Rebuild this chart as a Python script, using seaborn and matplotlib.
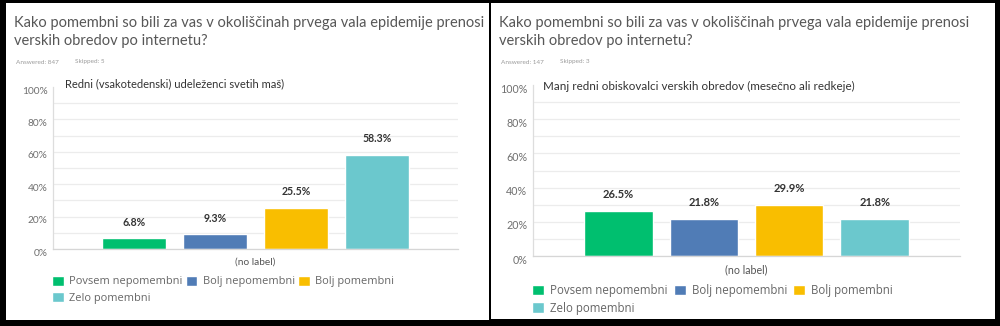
import matplotlib
matplotlib.use("Agg")
import matplotlib.pyplot as plt
import matplotlib.transforms as mtransforms
from matplotlib.patches import Rectangle
import pandas as pd
import seaborn as sns

# Survey data
question = ("Kako pomembni so bili za vas v okoliščinah prvega vala epidemije prenosi\n"
            "verskih obredov po internetu?")
categories = ["Povsem nepomembni", "Bolj nepomembni", "Bolj pomembni", "Zelo pomembni"]
colors = ["#00BF6F", "#507CB6", "#F9BE00", "#6BC8CD"]
group_label = "(no label)"

redni_title = "Redni (vsakotedenski) udeleženci svetih maš)"
redni_values = [6.8, 9.3, 25.5, 58.3]
redni_answered = 847
redni_skipped = 5

manj_title = "Manj redni obiskovalci verskih obredov (mesečno ali redkeje)"
manj_values = [26.5, 21.8, 29.9, 21.8]
manj_answered = 147
manj_skipped = 3

y_ticks = [0, 20, 40, 60, 80, 100]
y_ticklabels = ["0%", "20%", "40%", "60%", "80%", "100%"]

W, H = 1000, 326
FONT = "Lato"
LEGEND_FONT = "Open Sans"

sns.set_theme(style="white")
plt.rcParams["font.family"] = [FONT, "DejaVu Sans"]

fig = plt.figure(figsize=(W / 100, H / 100), dpi=100, facecolor="black")


def fx(x):
    return x / W


def fy(y):
    return 1 - y / H


def panel(box, ax_box, title, values, answered, skipped, s, title_x, title_y, colspace):
    x0, y0, x1, y1 = box
    fig.patches.append(Rectangle((fx(x0), fy(y1)), fx(x1 - x0), (y1 - y0) / H,
                                 transform=fig.transFigure, facecolor="white",
                                 edgecolor="none", zorder=-10))
    tx = x0 + 8
    fig.text(fx(tx), fy(32), question, fontsize=10.5, color="#575757",
             va="center", ha="left", linespacing=1.44)
    fig.text(fx(tx + 2), fy(62), f"Answered: {answered}", fontsize=4.6,
             color="#9a9a9a", va="center")
    fig.text(fx(tx + 61), fy(62), f"Skipped: {skipped}", fontsize=4.6,
             color="#9a9a9a", va="center")

    ax_l, ax_t, ax_r, ax_b = ax_box
    ax = fig.add_axes([fx(ax_l), fy(ax_b), fx(ax_r - ax_l), (ax_b - ax_t) / H])
    ax.set_facecolor("none")

    df = pd.DataFrame({"skupina": group_label, "odgovor": categories, "delez": values})
    sns.barplot(data=df, x="skupina", y="delez", hue="odgovor", hue_order=categories,
                palette=colors, saturation=1, gap=0.2, width=0.8, ax=ax, legend=True)

    for cont in ax.containers:
        ax.bar_label(cont, fmt="%.1f%%", padding=7.5 * s, fontsize=7.6 * s,
                     fontweight="bold", color="#333333")

    ax.set_ylim(0, 100)
    ax.set_xlim(-0.5, 0.5)
    ax.set_yticks(y_ticks)
    ax.set_yticklabels(y_ticklabels)
    ax.set_yticks([10, 30, 50, 70, 90], minor=True)
    ax.grid(axis="y", which="both", color="#ececec", linewidth=0.9)
    ax.yaxis.get_gridlines()[-1].set_visible(False)
    ax.set_axisbelow(True)
    ax.set_xlabel("")
    ax.set_ylabel("")
    for side in ("top", "right"):
        ax.spines[side].set_visible(False)
    ax.spines["left"].set_color("#dddddd")
    ax.spines["bottom"].set_color("#d6d6d6")
    ax.spines["left"].set_linewidth(0.9)
    ax.spines["bottom"].set_linewidth(0.9)
    ax.tick_params(axis="y", which="both", length=0, pad=4 * s, labelsize=7.3 * s,
                   labelcolor="#6f6f6f")
    ax.tick_params(axis="x", length=0, pad=6 * s, labelsize=7.3 * s, labelcolor="#555555")
    shift = mtransforms.ScaledTranslation(0, -3 / 100, fig.dpi_scale_trans)
    for lab in ax.get_yticklabels():
        lab.set_transform(lab.get_transform() + shift)

    fig.text(fx(title_x), fy(title_y), title,
             fontsize=8.0 * s, color="#333333", va="center", ha="left")

    # legend laid out row by row: three entries on the first row, one below
    handles, labels = ax.get_legend_handles_labels()
    order = [0, 3, 1, 2]
    ax.get_legend().remove()
    ax.legend([handles[i] for i in order], [labels[i] for i in order],
              loc="upper left", bbox_to_anchor=(fx(ax_l - 1), fy(ax_b + 26.5 * s)),
              bbox_transform=fig.transFigure, ncol=3, frameon=False,
              prop={"family": LEGEND_FONT, "size": 7.9 * s},
              handlelength=1.05, handleheight=1.05, handletextpad=0.5,
              columnspacing=colspace, labelspacing=0.42, borderpad=0,
              borderaxespad=0, labelcolor="#666666")
    return ax


panel((6, 3, 489, 320), (53, 87, 458, 249), redni_title, redni_values,
      redni_answered, redni_skipped, 1.0, 65, 84, 0.3)
panel((491, 3, 995, 319), (533, 85, 960, 256), manj_title, manj_values,
      manj_answered, manj_skipped, 1.05, 543, 86, 0.55)

fig.savefig("out.png", dpi=100, facecolor="black")
